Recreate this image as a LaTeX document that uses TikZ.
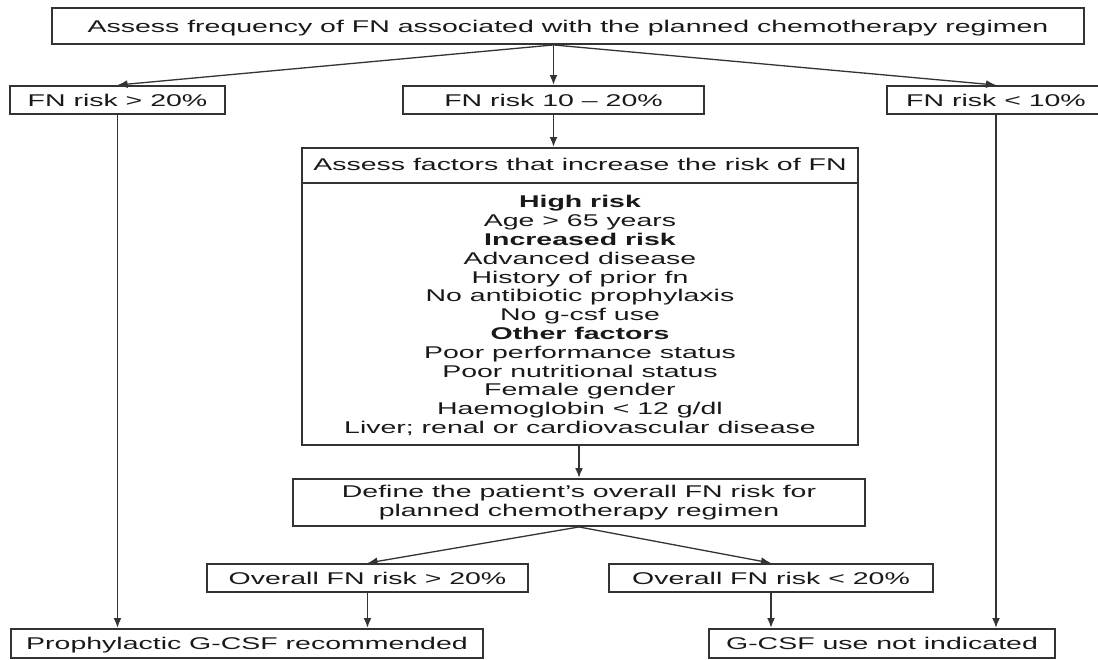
\documentclass[tikz,border=0pt]{standalone}
\usepackage{fontspec}
\setmainfont{Liberation Sans}[FakeStretch=1.675]
\usepackage{tikz}
\usetikzlibrary{arrows.meta, positioning}

\begin{document}
\begin{tikzpicture}[x=1pt, y=-1pt, >={Latex[length=10pt,width=8pt]},
    color=black!80, line width=1.9pt,
    every node/.style={font=\fontsize{17pt}{18.8pt}\selectfont, text=black!90},
    box/.style={draw, inner sep=0pt, text height=12.3pt, text depth=0pt, minimum height=28pt},
    slant/.style={->, line width=1.3pt}]
    \useasboundingbox (0,0) rectangle (1098,660);
    \clip (0,0) rectangle (1098,660);

    % Tần suất ban đầu
    \node[box, minimum width=1032pt, minimum height=36pt] (freq) at (568,26)
        {Assess frequency of FN associated with the planned chemotherapy regimen};
    \node[box, minimum width=215pt] (hi) at (117.5,100) {FN risk > 20\%};
    \node[box, minimum width=301pt] (mid) at (553.5,100) {FN risk 10 – 20\%};
    \node[box, minimum width=218pt] (lo) at (996,100) {FN risk < 10\%};

    % Các yếu tố nguy cơ
    \node[draw, inner sep=0pt, minimum width=556pt, minimum height=297pt] (fac) at (580,296.5) {};
    \node[inner sep=0pt, text height=12.3pt, text depth=0pt] (fachead) at (580,164.5)
        {Assess factors that increase the risk of FN};
    \draw[line width=1.3pt] (fac.west |- 0,183) -- (fac.east |- 0,183);
    \node[inner sep=0pt, anchor=north, align=center] (faclist) at (580,194.6)
        {\textbf{High risk}\\Age > 65 years\\\textbf{Increased risk}\\Advanced disease\\
         History of prior fn\\No antibiotic prophylaxis\\No g-csf use\\\textbf{Other factors}\\
         Poor performance status\\Poor nutritional status\\Female gender\\
         Haemoglobin < 12 g/dl\\Liver; renal or cardiovascular disease};

    % Nguy cơ tổng thể
    \node[draw, inner sep=0pt, minimum width=572pt, minimum height=47pt, align=center] (def) at (579,502.5)
        {Define the patient’s overall FN risk for\\planned chemotherapy regimen};
    \node[box, minimum width=321pt] (ohi) at (367.5,578) {Overall FN risk > 20\%};
    \node[box, minimum width=324pt] (olo) at (771,578) {Overall FN risk < 20\%};

    % Kết luận
    \node[box, minimum width=472pt, minimum height=29pt] (rec) at (247,643.5) {Prophylactic G-CSF recommended};
    \node[box, minimum width=346pt, minimum height=29pt] (nind) at (882,643.5) {G-CSF use not indicated};

    % Mũi tên
    \coordinate (split) at (freq.south -| mid.north);
    \draw[slant] (split) -- (hi.north);
    \draw[->] (split) -- (mid.north);
    \draw[slant] (split) -- (lo.north);
    \draw[->] (mid.south) -- (mid.south |- fac.north);
    \draw[->] (def.north |- fac.south) -- (def.north);
    \draw[slant] (def.south) -- (ohi.north);
    \draw[slant] (def.south) -- (olo.north);
    \draw[->] (ohi.south) -- (ohi.south |- rec.north);
    \draw[->] (olo.south) -- (olo.south |- nind.north);
    \draw[->] (hi.south) -- (hi.south |- rec.north);
    \draw[->] (lo.south) -- (lo.south |- nind.north);
\end{tikzpicture}
\end{document}
